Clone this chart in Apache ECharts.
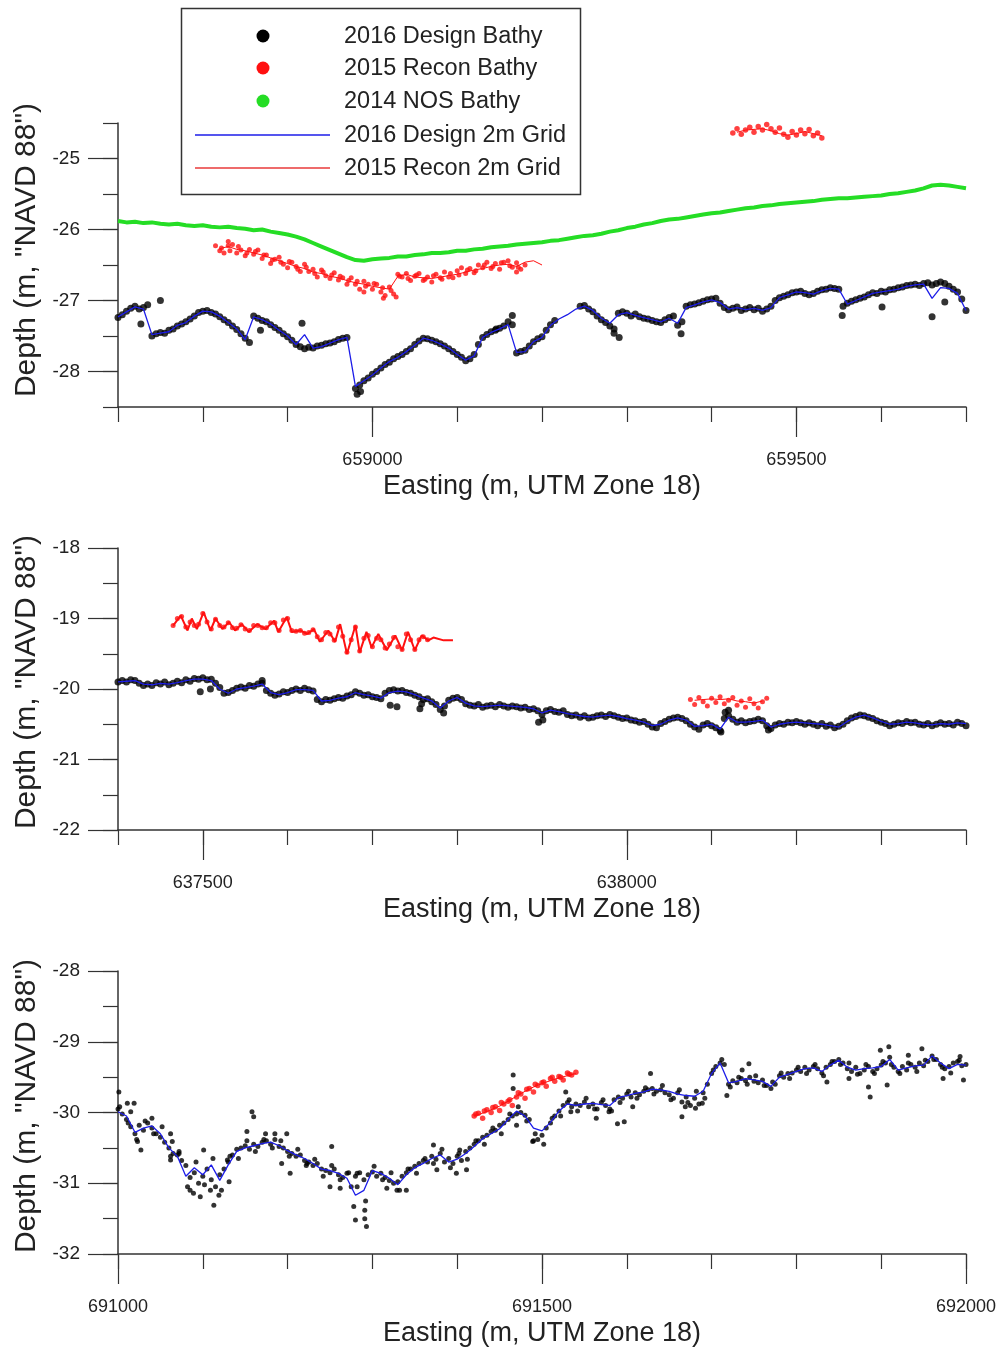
<!DOCTYPE html>
<html>
<head>
<meta charset="utf-8">
<script src="https://cdn.jsdelivr.net/npm/echarts@6.0.0/dist/echarts.min.js"></script>
<style>
html, body { margin: 0; padding: 0; background: #fff; }
#chart { width: 1003px; height: 1352px; }
</style>
</head>
<body>
<div id="chart"></div>
<script>
// ---- panel 1 (Easting 658700-659700) ----
const p1Start = 658700;
const p1Blue = [ // 10 m steps
  -27.23,-27.16,-27.09,-27.12,-27.48,-27.46,-27.44,-27.35,-27.31,-27.22,
  -27.15,-27.16,-27.22,-27.31,-27.40,-27.55,-27.23,-27.27,-27.33,-27.42,
  -27.50,-27.62,-27.48,-27.67,-27.65,-27.60,-27.55,-27.52,-28.21,-28.13,
  -28.05,-27.95,-27.86,-27.80,-27.72,-27.63,-27.53,-27.56,-27.61,-27.67,
  -27.76,-27.84,-27.78,-27.52,-27.45,-27.40,-27.34,-27.73,-27.72,-27.58,
  -27.52,-27.35,-27.26,-27.20,-27.12,-27.08,-27.14,-27.25,-27.32,-27.20,
  -27.17,-27.21,-27.24,-27.27,-27.30,-27.25,-27.32,-27.10,-27.06,-27.02,
  -26.99,-27.03,-27.12,-27.10,-27.13,-27.11,-27.14,-27.10,-26.96,-26.92,
  -26.88,-26.89,-26.91,-26.86,-26.83,-26.84,-27.05,-27.00,-26.95,-26.90,
  -26.88,-26.86,-26.84,-26.80,-26.78,-26.77,-26.97,-26.82,-26.83,-26.90,
  -27.14];
const p1Black = [ // 5 m steps
  -27.24,-27.20,-27.15,-27.11,-27.08,-27.12,-27.10,-27.06,-27.50,-27.47,
  -27.45,-27.46,-27.42,-27.40,-27.36,-27.33,-27.30,-27.26,-27.22,-27.17,
  -27.15,-27.14,-27.17,-27.19,-27.23,-27.27,-27.31,-27.36,-27.41,-27.47,
  -27.53,-27.59,-27.22,-27.25,-27.28,-27.30,-27.34,-27.38,-27.42,-27.47,
  -27.51,-27.56,-27.62,-27.65,-27.68,-27.66,-27.67,-27.64,-27.63,-27.61,
  -27.60,-27.58,-27.55,-27.53,-27.52,null,-28.24,-28.19,-28.13,-28.09,
  -28.04,-28.00,-27.95,-27.90,-27.87,-27.82,-27.79,-27.76,-27.72,-27.68,
  -27.62,-27.57,-27.53,-27.54,-27.56,-27.58,-27.61,-27.64,-27.68,-27.72,
  -27.76,-27.80,-27.85,-27.82,-27.76,-27.62,-27.52,-27.48,-27.44,-27.42,
  -27.39,-27.36,-27.30,-27.34,-27.74,-27.72,-27.70,-27.64,-27.58,-27.54,
  -27.51,-27.42,-27.34,-27.28,null,null,null,null,null,-27.08,
  -27.07,-27.12,-27.16,-27.22,-27.27,-27.31,-27.36,-27.40,-27.18,-27.16,
  -27.18,-27.22,-27.19,-27.23,-27.25,-27.26,-27.28,-27.30,-27.31,-27.27,
  -27.24,-27.22,-27.35,-27.30,-27.08,-27.06,-27.05,-27.03,-27.01,-26.99,
  -26.98,-26.97,-27.04,-27.10,-27.13,-27.11,-27.09,-27.14,-27.12,-27.10,
  -27.13,-27.11,-27.15,-27.12,-27.08,-27.00,-26.96,-26.94,-26.92,-26.89,
  -26.88,-26.87,-26.90,-26.92,-26.90,-26.87,-26.85,-26.84,-26.82,-26.83,
  -26.84,-27.08,-27.04,-27.01,-26.99,-26.97,-26.95,-26.92,-26.89,-26.90,
  -26.87,-26.88,-26.85,-26.84,-26.82,-26.81,-26.79,-26.78,-26.77,-26.79,
  -26.76,-26.75,-26.78,-26.76,-26.74,-26.76,-26.80,-26.84,-26.88,-26.98,
  -27.14];
const p1BlackExtra = [
  [658727,-27.33],[658750,-27.00],[658868,-27.42],[658917,-27.32],[658982,-28.32],
  [658986,-28.28],[659146,-27.40],[659165,-27.21],[659291,-27.52],[659285,-27.46],
  [659364,-27.47],[659554,-27.21],[659601,-27.09],[659660,-27.23],[659675,-27.02]];
const p1Green = [ // 10 m steps
  -25.88,-25.90,-25.89,-25.91,-25.90,-25.92,-25.93,-25.92,-25.94,-25.95,
  -25.94,-25.96,-25.97,-25.96,-25.98,-25.99,-26.01,-26.00,-26.03,-26.05,
  -26.07,-26.10,-26.14,-26.19,-26.24,-26.29,-26.34,-26.39,-26.43,-26.44,
  -26.42,-26.41,-26.40,-26.38,-26.38,-26.36,-26.35,-26.33,-26.33,-26.32,
  -26.30,-26.30,-26.28,-26.27,-26.25,-26.24,-26.23,-26.21,-26.20,-26.19,
  -26.18,-26.16,-26.15,-26.13,-26.11,-26.09,-26.08,-26.06,-26.03,-26.01,
  -25.98,-25.96,-25.93,-25.91,-25.88,-25.86,-25.85,-25.83,-25.81,-25.79,
  -25.77,-25.76,-25.74,-25.72,-25.70,-25.69,-25.67,-25.66,-25.64,-25.63,
  -25.62,-25.61,-25.60,-25.58,-25.57,-25.56,-25.56,-25.55,-25.54,-25.53,
  -25.52,-25.50,-25.49,-25.47,-25.45,-25.42,-25.38,-25.37,-25.38,-25.40,
  -25.42];
const p1RedDotsStart = 658815;
const p1RedDots = [ // 5 m steps
  -26.23,-26.30,-26.33,-26.23,-26.21,-26.33,-26.29,-26.37,-26.28,-26.35,
  -26.29,-26.41,-26.36,-26.48,-26.42,-26.39,-26.49,-26.54,-26.46,-26.52,
  -26.59,-26.49,-26.59,-26.56,-26.67,-26.57,-26.65,-26.69,-26.61,-26.71,
  -26.68,-26.77,-26.68,-26.77,-26.84,-26.73,-26.77,-26.84,-26.77,-26.88,
  -26.93,-26.81,-26.91,-26.63,-26.67,-26.62,-26.72,-26.66,-26.62,-26.72,
  -26.67,-26.74,-26.63,-26.68,-26.60,-26.67,-26.68,-26.58,-26.54,-26.62,
  -26.55,-26.61,-26.50,-26.54,-26.46,-26.55,-26.48,-26.56,-26.46,-26.44,
  -26.53,-26.47,-26.56,-26.50];
const p1RedDotsBStart = 658822;
const p1RedDotsB = [ // 10 m steps, second swath
  -26.26,-26.30,-26.24,-26.33,-26.31,-26.36,-26.43,-26.46,-26.45,-26.56,
  -26.53,-26.62,-26.60,-26.64,-26.66,-26.72,-26.73,-26.80,-26.76,-26.82,
  -26.86,-26.66,-26.69,-26.64,-26.70,-26.65,-26.70,-26.62,-26.64,-26.57,
  -26.58,-26.50,-26.52,-26.47,-26.51,-26.53];
const p1RedExtra = [[658830,-26.17],[658990,-26.88],[659013,-26.97],[659028,-26.95],[659170,-26.60]];
const p1RedGridStart = 658820;
const p1RedGrid = [ // 10 m steps
  -26.27,-26.24,-26.28,-26.30,-26.33,-26.36,-26.40,-26.44,-26.48,-26.52,
  -26.55,-26.60,-26.62,-26.66,-26.68,-26.72,-26.75,-26.77,-26.80,-26.82,
  -26.84,-26.66,-26.63,-26.67,-26.68,-26.69,-26.67,-26.65,-26.63,-26.60,
  -26.57,-26.55,-26.52,-26.50,-26.49,-26.52,-26.46,-26.44,-26.50];
const p1RedDots2Start = 659425;
const p1RedDots2 = [
  -24.64,-24.58,-24.66,-24.60,-24.56,-24.63,-24.55,-24.60,-24.52,-24.58,-24.63,
  -24.57,-24.66,-24.70,-24.62,-24.67,-24.60,-24.65,-24.59,-24.68,-24.64,-24.71];
const p1RedGrid2Start = 659430;
const p1RedGrid2 = [-24.63,-24.60,-24.59,-24.58,-24.61,-24.65,-24.67,-24.65,-24.62,-24.65,-24.68];

// ---- panel 2 (Easting 637400-638400) ----
const p2Start = 637400;
const p2Blue = [ // 10 m steps
  -19.90,-19.89,-19.88,-19.93,-19.94,-19.92,-19.93,-19.91,-19.88,-19.86,
  -19.86,-19.88,-20.00,-20.06,-20.00,-19.98,-19.96,-19.93,-20.05,-20.08,
  -20.05,-20.01,-20.01,-20.02,-20.17,-20.16,-20.13,-20.11,-20.05,-20.08,
  -20.10,-20.13,-20.05,-20.03,-20.04,-20.08,-20.13,-20.17,-20.27,-20.17,
  -20.12,-20.20,-20.24,-20.25,-20.24,-20.23,-20.24,-20.25,-20.26,-20.28,
  -20.34,-20.30,-20.32,-20.35,-20.37,-20.39,-20.40,-20.38,-20.37,-20.39,
  -20.42,-20.44,-20.47,-20.52,-20.50,-20.44,-20.41,-20.44,-20.53,-20.52,
  -20.50,-20.57,-20.40,-20.47,-20.47,-20.46,-20.44,-20.54,-20.50,-20.48,
  -20.47,-20.48,-20.49,-20.50,-20.52,-20.54,-20.46,-20.40,-20.37,-20.41,
  -20.46,-20.50,-20.49,-20.47,-20.48,-20.50,-20.51,-20.49,-20.50,-20.48,
  -20.49];
const p2Black = [ // 5 m steps
  -19.90,-19.88,-19.90,-19.87,-19.88,-19.92,-19.95,-19.93,-19.95,-19.91,
  -19.93,-19.90,-19.94,-19.92,-19.89,-19.91,-19.87,-19.89,-19.85,-19.86,
  -19.84,-19.87,-19.86,-19.92,-19.98,-20.06,-20.05,-20.02,-19.99,-19.97,
  -19.99,-19.95,-19.96,-19.93,-19.92,-20.02,-20.06,-20.09,-20.07,-20.04,
  -20.05,-20.02,-20.00,-20.02,-19.99,-20.01,-20.03,-20.15,-20.18,-20.15,
  -20.16,-20.14,-20.12,-20.13,-20.10,-20.08,-20.04,-20.06,-20.09,-20.08,
  -20.11,-20.12,-20.14,-20.06,-20.02,-20.01,-20.03,-20.02,-20.05,-20.06,
  -20.09,-20.11,-20.15,-20.14,-20.18,-20.22,-20.29,-20.24,-20.16,-20.13,
  -20.12,-20.15,-20.21,-20.23,-20.24,-20.22,-20.26,-20.24,-20.23,-20.25,
  -20.22,-20.24,-20.26,-20.24,-20.25,-20.27,-20.26,-20.29,-20.28,-20.31,
  -20.36,-20.31,-20.29,-20.32,-20.33,-20.31,-20.36,-20.38,-20.37,-20.40,
  -20.38,-20.41,-20.40,-20.38,-20.37,-20.39,-20.36,-20.38,-20.40,-20.42,
  -20.41,-20.44,-20.45,-20.47,-20.46,-20.50,-20.54,-20.55,-20.49,-20.46,
  -20.43,-20.41,-20.40,-20.42,-20.45,-20.50,-20.54,-20.57,-20.51,-20.49,
  -20.52,-20.55,-20.59,-20.42,-20.38,-20.43,-20.47,-20.45,-20.48,-20.46,
  -20.45,-20.43,-20.45,-20.52,-20.56,-20.51,-20.49,-20.50,-20.47,-20.48,
  -20.46,-20.48,-20.50,-20.48,-20.50,-20.52,-20.49,-20.53,-20.51,-20.55,
  -20.53,-20.50,-20.45,-20.41,-20.39,-20.37,-20.38,-20.40,-20.42,-20.45,
  -20.47,-20.49,-20.52,-20.50,-20.48,-20.49,-20.46,-20.48,-20.47,-20.50,
  -20.51,-20.49,-20.52,-20.50,-20.48,-20.50,-20.49,-20.51,-20.47,-20.49,
  -20.52];
const p2BlackExtra = [
  [637497,-20.04],[637509,-20.00],[637570,-19.88],[637721,-20.23],[637729,-20.25],
  [637756,-20.28],[637758,-20.21],[637784,-20.34],[637896,-20.47],[637901,-20.44],
  [638111,-20.61],[638116,-20.33],[638120,-20.30],[638167,-20.58]];
const p2RedGridX = [
  637465,637474,637482,637487,637493,637501,637509,637515,637523,637531,
  637538,637546,637554,637564,637574,637584,637589,637599,637605,637615,
  637623,637631,637638,637648,637656,637662,637670,637680,637685,637693,
  637699,637707,637717,637727,637735,637742,637750,637758,637766,637772,
  637784,637795];
const p2RedGridY = [
  -19.10,-18.96,-19.17,-19.00,-19.15,-18.91,-19.17,-19.00,-19.15,-19.05,
  -19.17,-19.08,-19.19,-19.08,-19.15,-19.03,-19.19,-18.98,-19.19,-19.17,
  -19.22,-19.15,-19.33,-19.17,-19.33,-19.08,-19.50,-19.10,-19.48,-19.19,
  -19.41,-19.22,-19.45,-19.24,-19.45,-19.19,-19.45,-19.24,-19.31,-19.27,
  -19.31,-19.31];
const p2RedDotsStart = 637465;
const p2RedDots = [ // 5 m steps
  -19.10,-19.00,-18.97,-19.12,-19.05,-19.10,-19.08,-18.93,-19.05,-19.15,
  -19.01,-19.10,-19.12,-19.06,-19.13,-19.14,-19.09,-19.15,-19.17,-19.10,
  -19.10,-19.13,-19.13,-19.06,-19.06,-19.17,-19.02,-19.00,-19.17,-19.18,
  -19.17,-19.21,-19.20,-19.16,-19.26,-19.30,-19.20,-19.22,-19.31,-19.12,
  -19.25,-19.48,-19.30,-19.12,-19.46,-19.28,-19.24,-19.40,-19.28,-19.30,
  -19.42,-19.36,-19.27,-19.40,-19.44,-19.22,-19.30,-19.44,-19.30,-19.26,
  -19.30];
const p2RedDots2Start = 638075;
const p2RedDots2 = [
  -20.15,-20.22,-20.12,-20.18,-20.24,-20.13,-20.19,-20.11,-20.21,-20.16,
  -20.12,-20.23,-20.17,-20.26,-20.14,-20.21,-20.27,-20.18,-20.13];
const p2RedGrid2Start = 638080;
const p2RedGrid2 = [-20.16,-20.15,-20.14,-20.15,-20.14,-20.17,-20.18,-20.20,-20.17];

// ---- panel 3 (Easting 691000-692000) ----
const p3Start = 691000;
const p3Blue = [ // 10 m steps
  -29.99,-30.05,-30.28,-30.22,-30.19,-30.30,-30.50,-30.62,-30.90,-30.78,
  -30.88,-30.74,-30.96,-30.74,-30.55,-30.50,-30.47,-30.44,-30.42,-30.47,
  -30.54,-30.60,-30.65,-30.72,-30.80,-30.82,-30.86,-30.93,-31.17,-31.10,
  -30.82,-30.86,-30.93,-31.02,-30.88,-30.78,-30.72,-30.65,-30.60,-30.70,
  -30.66,-30.58,-30.48,-30.37,-30.30,-30.23,-30.10,-29.98,-30.05,-30.22,
  -30.26,-30.14,-29.98,-29.88,-29.90,-29.88,-29.87,-29.89,-29.90,-29.79,
  -29.76,-29.73,-29.71,-29.67,-29.68,-29.70,-29.74,-29.76,-29.77,-29.70,
  -29.45,-29.30,-29.58,-29.56,-29.52,-29.54,-29.56,-29.63,-29.50,-29.46,
  -29.42,-29.38,-29.37,-29.42,-29.33,-29.26,-29.36,-29.40,-29.38,-29.37,
  -29.35,-29.25,-29.40,-29.37,-29.34,-29.33,-29.20,-29.30,-29.38,-29.32,
  -29.33];
const p3Black = [ // 5 m steps
  -29.95,-30.02,-30.10,-30.20,-30.30,-30.18,-30.25,-30.15,-30.22,-30.30,
  -30.35,-30.42,-30.50,-30.58,-30.60,-30.68,-30.75,-30.92,-30.85,-31.00,
  -30.90,-30.80,-30.95,-31.05,-30.88,-30.80,-30.70,-30.60,-30.52,-30.50,
  -30.47,-30.52,-30.45,-30.48,-30.42,-30.40,-30.45,-30.38,-30.48,-30.50,
  -30.55,-30.58,-30.62,-30.60,-30.68,-30.70,-30.75,-30.72,-30.80,-30.82,
  -30.85,-30.80,-30.88,-30.92,-30.86,-31.05,-30.90,-30.85,-30.95,-30.88,
  -30.84,-30.90,-30.86,-30.92,-30.96,-31.00,-30.98,-30.90,-30.85,-30.80,
  -30.76,-30.72,-30.68,-30.70,-30.62,-30.66,-30.58,-30.70,-30.65,-30.72,
  -30.62,-30.68,-30.55,-30.50,-30.45,-30.40,-30.35,-30.32,-30.27,-30.25,
  -30.18,-30.15,-30.10,-30.05,-30.02,-30.00,-30.04,-30.10,-30.40,-30.38,
  -30.32,-30.22,-30.15,-30.05,-29.98,-29.90,-29.86,-29.92,-29.88,-29.90,
  -29.85,-29.92,-29.88,-29.95,-29.86,-29.90,-29.95,-29.82,-29.78,-29.80,
  -29.74,-29.78,-29.72,-29.75,-29.70,-29.68,-29.66,-29.70,-29.68,-29.72,
  -29.75,-29.80,-29.72,-29.85,-29.78,-29.90,-29.80,-29.88,-29.72,-29.60,
  -29.45,-29.35,-29.30,-29.32,-29.60,-29.55,-29.58,-29.52,-29.55,-29.50,
  -29.56,-29.58,-29.54,-29.62,-29.66,-29.60,-29.48,-29.50,-29.45,-29.44,
  -29.40,-29.42,-29.36,-29.40,-29.35,-29.38,-29.44,-29.36,-29.32,-29.28,
  -29.25,-29.30,-29.38,-29.42,-29.36,-29.45,-29.40,-29.35,-29.42,-29.38,
  -29.33,-29.30,-29.22,-29.36,-29.42,-29.35,-29.40,-29.32,-29.36,-29.30,
  -29.34,-29.28,-29.20,-29.25,-29.32,-29.38,-29.35,-29.30,-29.28,-29.34,
  -29.32];
const p3SpreadStart = 691002;
const p3BlackSpread = [ // 10 m steps, second swath of soundings
  -29.92,-30.15,-30.38,-30.12,-30.30,-30.20,-30.62,-30.55,-31.05,-30.70,
  -31.02,-30.65,-31.10,-30.62,-30.65,-30.40,-30.55,-30.38,-30.50,-30.40,
  -30.62,-30.52,-30.75,-30.66,-30.90,-30.75,-30.95,-30.85,-31.05,-31.25,
  -30.76,-30.95,-30.85,-31.10,-30.80,-30.86,-30.65,-30.72,-30.52,-30.78,
  -30.58,-30.66,-30.40,-30.45,-30.22,-30.30,-30.02,-29.92,-30.12,-30.30,
  -30.45,-30.08,-30.05,-29.82,-29.98,-29.80,-29.95,-29.82,-29.98,-29.86,
  -29.70,-29.80,-29.65,-29.74,-29.62,-29.82,-29.68,-29.86,-29.70,-29.80,
  -29.40,-29.25,-29.64,-29.50,-29.60,-29.48,-29.62,-29.57,-29.44,-29.52,
  -29.36,-29.45,-29.32,-29.48,-29.28,-29.32,-29.30,-29.46,-29.32,-29.45,
  -29.28,-29.32,-29.45,-29.30,-29.42,-29.26,-29.25,-29.36,-29.44,-29.26];
const p3BlackExtra = [
  [691001,-29.71],[691011,-29.87],[691019,-29.87],[691015,-29.99],[691023,-30.41],
  [691027,-30.53],[691040,-30.08],[691062,-30.30],[691064,-30.41],[691062,-30.67],
  [691072,-30.58],[691085,-31.10],[691089,-31.14],[691097,-31.19],[691101,-30.53],
  [691109,-31.10],[691113,-31.31],[691119,-31.17],[691131,-30.98],[691129,-30.67],
  [691158,-29.99],[691160,-30.06],[691152,-30.27],[691174,-30.30],[691185,-30.30],
  [691199,-30.30],[691193,-30.72],[691203,-30.86],[691223,-30.72],[691252,-30.48],
  [691250,-31.05],[691262,-31.07],[691278,-31.33],[691280,-31.52],[691291,-31.50],
  [691293,-31.61],[691291,-31.38],[691282,-30.86],[691317,-31.07],[691329,-31.10],
  [691340,-31.10],[691372,-30.46],[691376,-30.81],[691403,-30.53],[691399,-30.86],
  [691411,-30.81],[691466,-29.47],[691466,-29.66],[691470,-30.18],[691489,-30.41],
  [691528,-29.71],[691534,-29.99],[691564,-30.08],[691579,-29.99],[691589,-30.16],
  [691597,-30.13],[691607,-29.92],[691628,-29.45],[691665,-30.06],[691669,-29.92],
  [691681,-29.94],[691689,-29.87],[691718,-29.76],[691744,-29.31],[691736,-29.40],
  [691836,-29.57],[691862,-29.52],[691887,-29.78],[691885,-29.64],[691899,-29.12],
  [691909,-29.07],[691907,-29.61],[691932,-29.19],[691948,-29.10],[691973,-29.52],
  [691997,-29.54],[691993,-29.21]];
const p3RedDotsStart = 691420;
const p3RedDots = [
  -30.05,-30.01,-30.08,-29.96,-30.00,-29.92,-29.97,-29.88,-29.84,-29.90,
  -29.78,-29.74,-29.80,-29.66,-29.71,-29.62,-29.58,-29.63,-29.52,-29.56,
  -29.49,-29.54,-29.44,-29.47,-29.43];
const p3RedDotsBStart = 691422;
const p3RedDotsB = [-30.02,-29.98,-29.93,-29.86,-29.82,-29.72,-29.67,-29.60,-29.57,-29.50,-29.50,-29.46];
const p3RedGridStart = 691420;
const p3RedGrid = [-30.05,-30.01,-29.96,-29.91,-29.84,-29.77,-29.70,-29.64,-29.59,-29.55,-29.51,-29.48,-29.45];

// ---- helpers ----
function stepped(start, step, vals, keepGaps) {
  const out = [];
  vals.forEach(function (v, i) {
    if (v === null) {
      if (keepGaps) out.push([start + i * step, '-']);
    } else {
      out.push([start + i * step, v]);
    }
  });
  return out;
}
function paired(xs, ys) {
  return xs.map(function (x, i) { return [x, ys[i]]; });
}

const FONT = '"Liberation Sans", Arial, sans-serif';
const AXIS_COLOR = '#333';
const BLUE = '#1c1ce8';
const RED = '#ff1010';
const GREEN = '#25dd25';

const panels = [
  { top: 123, height: 284, xMin: 658700, xMax: 659700, xMajor: [659000, 659500], yMin: -28.5, yMax: -24.5, yMajor: [-28, -27, -26, -25], titleY: 250 },
  { top: 548, height: 282, xMin: 637400, xMax: 638400, xMajor: [637500, 638000], yMin: -22, yMax: -18, yMajor: [-22, -21, -20, -19, -18], titleY: 682 },
  { top: 971, height: 283, xMin: 691000, xMax: 692000, xMajor: [691000, 691500, 692000], yMin: -32, yMax: -28, yMajor: [-32, -31, -30, -29, -28], titleY: 1106 }
];

const grids = [];
const xAxes = [];
const yAxes = [];
panels.forEach(function (p, i) {
  grids.push({ left: 118, width: 848, top: p.top, height: p.height, containLabel: false });
  // major x axis: line, long ticks, labels, name
  xAxes.push({
    type: 'value', gridIndex: i, position: 'bottom', min: p.xMin, max: p.xMax,
    axisLine: { show: true, onZero: false, lineStyle: { color: AXIS_COLOR, width: 1.5 } },
    axisTick: { show: true, customValues: p.xMajor, length: 30, lineStyle: { color: AXIS_COLOR, width: 1.2 } },
    axisLabel: { show: true, customValues: p.xMajor, margin: 44, fontSize: 18, color: '#222', fontFamily: FONT,
                 formatter: function (v) { return String(v); } },
    splitLine: { show: false },
    name: 'Easting (m, UTM Zone 18)', nameLocation: 'middle', nameGap: 66,
    nameTextStyle: { fontSize: 27, color: '#222', fontFamily: FONT }
  });
  // minor x ticks every 100 m
  xAxes.push({
    type: 'value', gridIndex: i, position: 'bottom', min: p.xMin, max: p.xMax, interval: 100,
    axisLine: { show: false, onZero: false },
    axisTick: { show: true, length: 15, lineStyle: { color: AXIS_COLOR, width: 1.2 } },
    axisLabel: { show: false }, splitLine: { show: false }
  });
  yAxes.push({
    type: 'value', gridIndex: i, position: 'left', min: p.yMin, max: p.yMax,
    axisLine: { show: true, onZero: false, lineStyle: { color: AXIS_COLOR, width: 1.5 } },
    axisTick: { show: true, customValues: p.yMajor, length: 30, lineStyle: { color: AXIS_COLOR, width: 1.2 } },
    axisLabel: { show: true, customValues: p.yMajor, margin: 38, fontSize: 19, color: '#222', fontFamily: FONT,
                 formatter: function (v) { return String(v); } },
    splitLine: { show: false }
  });
  yAxes.push({
    type: 'value', gridIndex: i, position: 'left', min: p.yMin, max: p.yMax, interval: 0.5,
    axisLine: { show: false, onZero: false },
    axisTick: { show: true, length: 15, lineStyle: { color: AXIS_COLOR, width: 1.2 } },
    axisLabel: { show: false }, splitLine: { show: false }
  });
});

function dots(panel, data, color, size, z) {
  return { type: 'scatter', xAxisIndex: panel * 2, yAxisIndex: panel * 2, data: data,
           symbol: 'circle', symbolSize: size, itemStyle: { color: color }, z: z, silent: true };
}
function line(panel, data, color, width, z) {
  return { type: 'line', xAxisIndex: panel * 2, yAxisIndex: panel * 2, data: data,
           symbol: 'none', connectNulls: false, lineStyle: { color: color, width: width }, z: z, silent: true };
}

const series = [
  // panel 1
  line(0, stepped(p1Start, 10, p1Green), GREEN, 4, 2),
  dots(0, stepped(p1RedDotsStart, 5, p1RedDots).concat(p1RedExtra, stepped(p1RedDotsBStart, 10, p1RedDotsB)), RED, 5, 3),
  line(0, stepped(p1RedGridStart, 10, p1RedGrid), RED, 1, 4),
  dots(0, stepped(p1RedDots2Start, 5, p1RedDots2), RED, 5.5, 3),
  line(0, stepped(p1RedGrid2Start, 10, p1RedGrid2), RED, 1, 4),
  dots(0, stepped(p1Start, 5, p1Black).concat(p1BlackExtra), '#000', 7, 5),
  line(0, stepped(p1Start, 10, p1Blue), BLUE, 1.3, 6),
  // panel 2
  dots(1, stepped(p2RedDotsStart, 5, p2RedDots), RED, 5, 3),
  line(1, paired(p2RedGridX, p2RedGridY), RED, 2, 4),
  dots(1, stepped(p2RedDots2Start, 5, p2RedDots2), RED, 5, 3),
  line(1, stepped(p2RedGrid2Start, 10, p2RedGrid2), RED, 1, 4),
  dots(1, stepped(p2Start, 5, p2Black).concat(p2BlackExtra), '#000', 7, 5),
  line(1, stepped(p2Start, 10, p2Blue), BLUE, 1.3, 6),
  // panel 3
  dots(2, stepped(p3RedDotsStart, 5, p3RedDots).concat(stepped(p3RedDotsBStart, 10, p3RedDotsB)), RED, 5.5, 3),
  line(2, stepped(p3RedGridStart, 10, p3RedGrid), RED, 1, 4),
  dots(2, stepped(p3Start, 5, p3Black).concat(p3BlackExtra, stepped(p3SpreadStart, 10, p3BlackSpread)), '#000', 5, 5),
  line(2, stepped(p3Start, 10, p3Blue), BLUE, 1.3, 6)
];

// legend box drawn as graphics (icons sit far from the text in the original)
const legendRows = [
  { label: '2016 Design Bathy', kind: 'dot', color: '#000', y: 36 },
  { label: '2015 Recon Bathy', kind: 'dot', color: RED, y: 68 },
  { label: '2014 NOS Bathy', kind: 'dot', color: GREEN, y: 101 },
  { label: '2016 Design 2m Grid', kind: 'line', color: BLUE, y: 135 },
  { label: '2015 Recon 2m Grid', kind: 'line', color: '#e83a3a', y: 168 }
];
const graphic = [{
  type: 'rect', z: 100, shape: { x: 181.5, y: 8.5, width: 399, height: 186 },
  style: { fill: '#fff', stroke: '#333', lineWidth: 1.5 }
}];
legendRows.forEach(function (r) {
  if (r.kind === 'dot') {
    graphic.push({ type: 'circle', z: 101, shape: { cx: 263, cy: r.y, r: 6.5 }, style: { fill: r.color } });
  } else {
    graphic.push({ type: 'line', z: 101, shape: { x1: 195, y1: r.y, x2: 330, y2: r.y },
                   style: { stroke: r.color, lineWidth: 1.3 } });
  }
  graphic.push({ type: 'text', z: 101, x: 344, y: r.y + 1,
                 style: { text: r.label, fontSize: 23.5, fontFamily: FONT, fill: '#222', verticalAlign: 'middle' } });
});
// y axis titles, rotated
panels.forEach(function (p) {
  graphic.push({ type: 'text', z: 101, x: 27, y: p.titleY, rotation: Math.PI / 2,
                 style: { text: 'Depth (m, "NAVD 88")', fontSize: 30, fontFamily: FONT, fill: '#222',
                          align: 'center', verticalAlign: 'middle' } });
});

const chart = echarts.init(document.getElementById('chart'), null, { renderer: 'canvas' });
chart.setOption({
  animation: false,
  backgroundColor: '#fff',
  grid: grids,
  xAxis: xAxes,
  yAxis: yAxes,
  series: series,
  graphic: graphic
});
</script>
</body>
</html>
